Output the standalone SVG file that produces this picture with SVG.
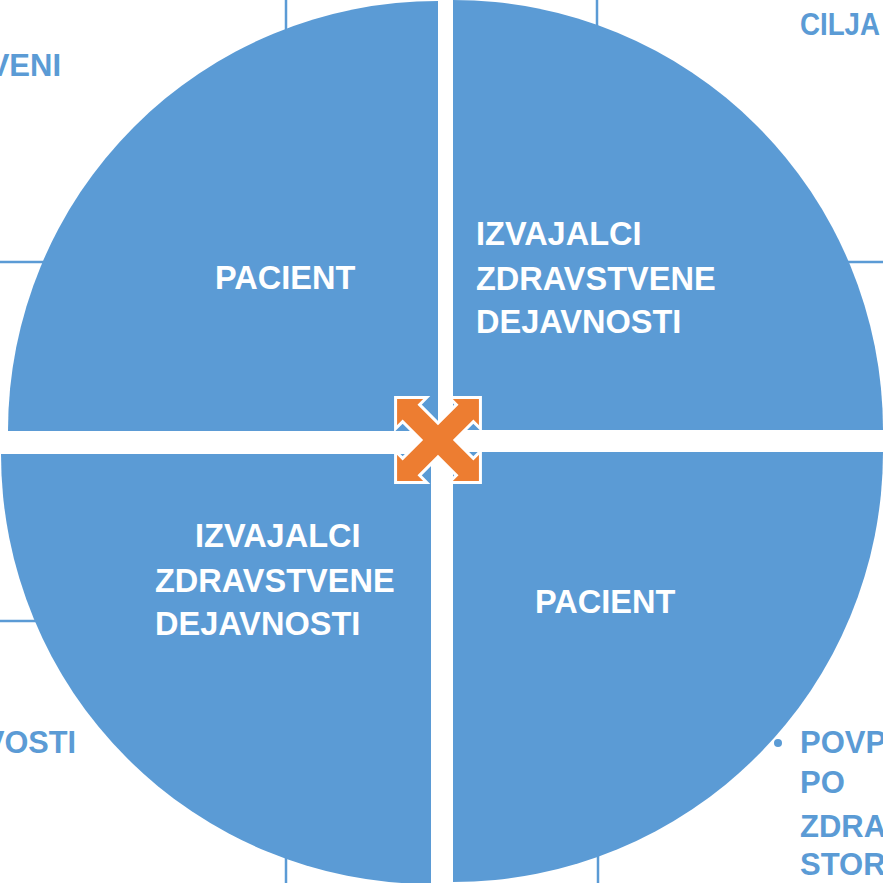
<svg xmlns="http://www.w3.org/2000/svg" width="883" height="883" viewBox="0 0 883 883">
<style>
.bg{fill:#ffffff}
.q{fill:#5B9BD5}
.t{font-family:"Liberation Sans",Arial,sans-serif;font-weight:bold;font-size:32.5px;fill:#ffffff}
.o{font-family:"Liberation Sans",Arial,sans-serif;font-weight:bold;font-size:31px;fill:#5B9BD5}
.ln{stroke:#5B9BD5;stroke-width:2.5;fill:none}
.ico{fill:#ED7D31;stroke:#ffffff;stroke-width:3;stroke-linejoin:miter}
</style>
<rect class="bg" x="0" y="0" width="883" height="883"/>
<g id="background">
<line class="ln" x1="286" y1="0" x2="286" y2="40"/>
<line class="ln" x1="597" y1="0" x2="597" y2="40"/>
<line class="ln" x1="0" y1="262" x2="60" y2="262"/>
<line class="ln" x1="830" y1="262" x2="883" y2="262"/>
<line class="ln" x1="0" y1="621" x2="50" y2="621"/>
<line class="ln" x1="286" y1="840" x2="286" y2="883"/>
<line class="ln" x1="598" y1="840" x2="598" y2="883"/>
<text class="o" x="61" y="76" text-anchor="end">VENI</text>
<text class="o" x="800" y="35" textLength="80" lengthAdjust="spacingAndGlyphs">CILJA</text>
<text class="o" x="76" y="753" text-anchor="end" textLength="92" lengthAdjust="spacingAndGlyphs">VOSTI</text>
<circle cx="778" cy="743" r="4" fill="#5B9BD5"/>
<text class="o" x="800" y="753">POVP</text>
<text class="o" x="800" y="793">PO</text>
<text class="o" x="800" y="837">ZDRA</text>
<text class="o" x="800" y="875">STOR</text>
</g>
<g id="q-top-left">
<path class="q" d="M438,431 L8,431 A430,430 0 0 1 438,1 Z"/>
<text class="t" x="215" y="289">PACIENT</text>
</g>
<g id="q-top-right">
<path class="q" d="M453,430 L453,0 A430,430 0 0 1 883,430 Z"/>
<text class="t" x="476" y="245">IZVAJALCI</text>
<text class="t" x="476" y="290">ZDRAVSTVENE</text>
<text class="t" x="476" y="333">DEJAVNOSTI</text>
</g>
<g id="q-bottom-left">
<path class="q" d="M431,454 L431,884 A430,430 0 0 1 1,454 Z"/>
<text class="t" x="195" y="547">IZVAJALCI</text>
<text class="t" x="155" y="592">ZDRAVSTVENE</text>
<text class="t" x="155" y="635">DEJAVNOSTI</text>
</g>
<g id="q-bottom-right">
<path class="q" d="M453,452 L883,452 A430,430 0 0 1 453,882 Z"/>
<text class="t" x="535" y="613">PACIENT</text>
</g>
<g id="connectors">
<path class="ico" transform="translate(438,440) rotate(45)" d="M0,-60 L22,-38 L12,-38 L12,-12 L38,-12 L38,-22 L60,0 L38,22 L38,12 L12,12 L12,38 L22,38 L0,60 L-22,38 L-12,38 L-12,12 L-38,12 L-38,22 L-60,0 L-38,-22 L-38,-12 L-12,-12 L-12,-38 L-22,-38 Z"/>
</g>
</svg>
